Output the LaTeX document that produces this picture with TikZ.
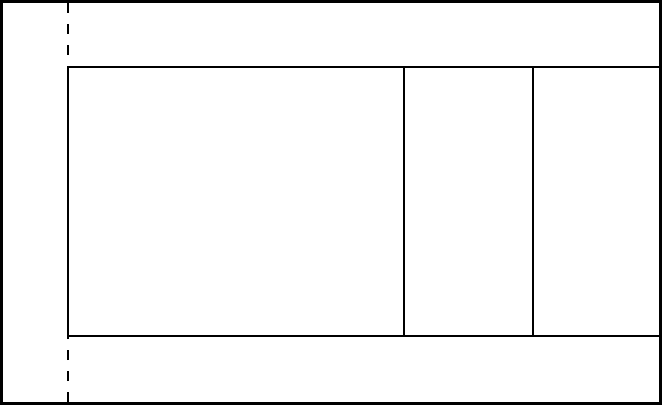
\documentclass[tikz,border=0pt]{standalone}
\usepackage{tikz}
\usetikzlibrary{positioning}
\tikzset{
  wall/.style={line width=2.8pt, black},
  cut/.style={line width=2.8pt, black, dash pattern=on 10pt off 11pt}
}

\begin{document}
\begin{tikzpicture}[x=1pt, y=-1pt]
  \useasboundingbox (0,0) rectangle (662,405);

  % Outer frame
  \draw[wall] (1.4,1.4) rectangle (660.6,403.6);

  % Inner block
  \coordinate (tl) at (68,67);
  \coordinate (br) at (661,336);
  \draw[wall] (tl) rectangle (br);

  % Dividers
  \draw[wall] (404,67) -- (404,336);
  \draw[wall] (533,67) -- (533,336);

  % Dashed cut line
  \draw[cut] (68,3) -- (tl);
  \draw[cut] (68,402) -- (68,336);
\end{tikzpicture}
\end{document}
